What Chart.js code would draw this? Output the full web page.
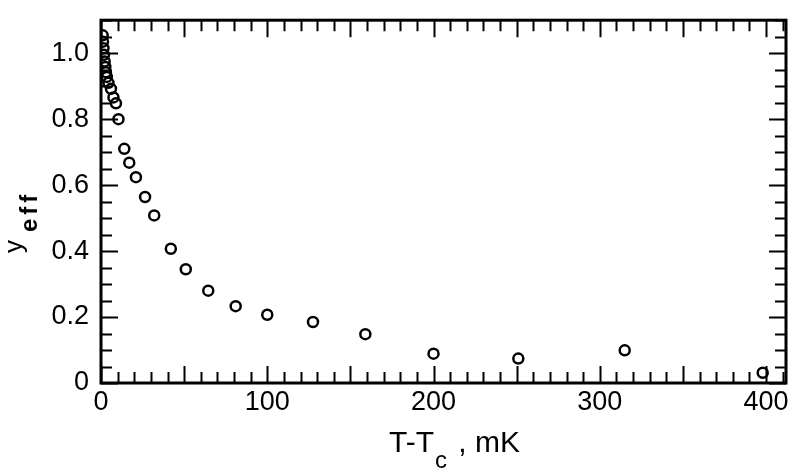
<!DOCTYPE html>
<html>
<head>
<meta charset="utf-8">
<script src="https://cdn.jsdelivr.net/npm/chart.js@4.4.1/dist/chart.umd.min.js"></script>
<style>
  html, body { margin: 0; padding: 0; background: #fff; }
  #wrap { width: 798px; height: 470px; }
</style>
</head>
<body>
<div id="wrap"><canvas id="chart" width="798" height="470"></canvas></div>
<script>
// data: T - Tc (mK) and y_eff
const tempDiff = [1, 1.2, 1.5, 1.8, 2.2, 2.6, 3, 3.5, 4.5, 6, 7.5, 9, 10.5, 14, 17, 21, 26.5, 32, 42, 51, 64.5, 81, 100, 127.5, 159, 200, 251, 315, 398];
const yEff = [1.054, 1.035, 1.015, 0.995, 0.975, 0.958, 0.942, 0.928, 0.91, 0.892, 0.866, 0.848, 0.80, 0.71, 0.668, 0.624, 0.564, 0.508, 0.407, 0.345, 0.28, 0.233, 0.207, 0.185, 0.148, 0.089, 0.074, 0.099, 0.031];

const xTickValues = [0, 100, 200, 300, 400];
const yTickValues = [0, 0.2, 0.4, 0.6, 0.8, 1.0];
const yTickLabels = ['0', '0.2', '0.4', '0.6', '0.8', '1.0'];

const X_MAX = 412, Y_MAX = 1.1;
const X_MINOR = 10, X_MAJOR = 50;
const Y_MINOR = 0.05, Y_MAJOR = 0.2;
const FONT = '"Liberation Sans", Arial, sans-serif';

// inward ticks on all four sides + frame
const frameTicks = {
    id: 'frameTicks',
    afterDraw(chart) {
        const { ctx, chartArea: a, scales: { x, y } } = chart;
        ctx.save();
        ctx.strokeStyle = '#000';
        ctx.lineWidth = 2;
        ctx.beginPath();
        for (let v = 0; v <= X_MAX + 1e-9; v += X_MINOR) {
            const px = Math.round(x.getPixelForValue(v)) + 0.5;
            const len = (Math.round(v) % X_MAJOR === 0) ? 17 : 11;
            ctx.moveTo(px, a.bottom); ctx.lineTo(px, a.bottom - len);
            ctx.moveTo(px, a.top); ctx.lineTo(px, a.top + len);
        }
        for (let i = 0; i * Y_MINOR <= Y_MAX + 1e-9; i++) {
            const v = i * Y_MINOR;
            const py = Math.round(y.getPixelForValue(v)) + 0.5;
            const len = (i % Math.round(Y_MAJOR / Y_MINOR) === 0) ? 17 : 11;
            ctx.moveTo(a.left, py); ctx.lineTo(a.left + len, py);
            ctx.moveTo(a.right, py); ctx.lineTo(a.right - len, py);
        }
        ctx.stroke();
        ctx.lineWidth = 3;
        ctx.strokeRect(a.left, a.top, a.right - a.left, a.bottom - a.top);

        // axis titles with subscripts
        ctx.fillStyle = '#000';
        ctx.textBaseline = 'alphabetic';
        ctx.textAlign = 'left';
        let tx = a.left + 288;
        ctx.font = '30px ' + FONT;
        ctx.fillText('T-T', tx, 452);
        tx += ctx.measureText('T-T').width + 1;
        ctx.font = '24px ' + FONT;
        ctx.fillText('c', tx, 468);
        tx += ctx.measureText('c').width + 3;
        ctx.font = '30px ' + FONT;
        ctx.fillText(' , mK', tx, 452);

        ctx.rotate(-Math.PI / 2);
        ctx.font = '26px ' + FONT;
        ctx.fillText('y', -253, 22);
        ctx.font = 'bold 24px ' + FONT;
        let ty = -232;
        for (const ch of 'eff') {
            ctx.fillText(ch, ty, 37);
            ty += ctx.measureText(ch).width + 4;
        }
        ctx.restore();
    }
};

new Chart(document.getElementById('chart'), {
    type: 'scatter',
    data: {
        datasets: [{
            data: tempDiff.map((t, i) => ({ x: t, y: yEff[i] })),
            pointStyle: 'circle',
            pointRadius: 5,
            pointBorderWidth: 2.5,
            pointBorderColor: '#000',
            pointBackgroundColor: 'rgba(0,0,0,0)',
            showLine: false
        }]
    },
    options: {
        responsive: false,
        animation: false,
        devicePixelRatio: 1,
        layout: { padding: { left: 0, top: 14, right: 12, bottom: 0 } },
        plugins: { legend: { display: false }, tooltip: { enabled: false } },
        scales: {
            x: {
                type: 'linear', min: 0, max: X_MAX,
                grid: { display: false },
                border: { display: false },
                afterBuildTicks: s => { s.ticks = xTickValues.map(v => ({ value: v })); },
                afterFit: s => { s.height = 87; },
                ticks: { color: '#000', padding: -5, maxRotation: 0, font: { size: 27, family: FONT } }
            },
            y: {
                type: 'linear', min: 0, max: Y_MAX,
                grid: { display: false },
                border: { display: false },
                afterBuildTicks: s => { s.ticks = yTickValues.map(v => ({ value: v })); },
                afterFit: s => { s.width = 101; },
                ticks: {
                    color: '#000', padding: 4,
                    font: { size: 27, family: FONT },
                    callback: v => yTickLabels[yTickValues.findIndex(t => Math.abs(t - v) < 1e-9)]
                }
            }
        }
    },
    plugins: [frameTicks]
});
</script>
</body>
</html>
